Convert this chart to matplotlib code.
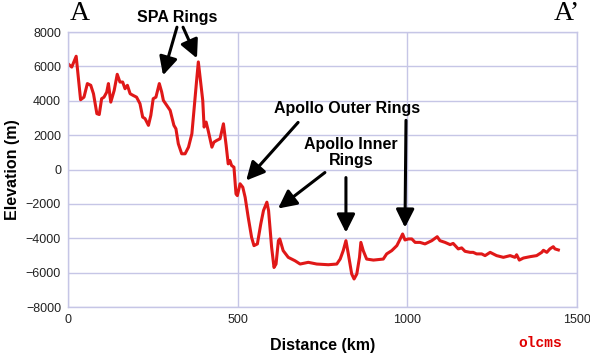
import matplotlib.pyplot as plt

# profile A - A' (distance km, elevation m)
distance = [0, 11, 24, 37, 47, 57, 67, 75, 85, 92, 99, 106, 114, 119, 126, 136,
            145, 153, 161, 168, 175, 183, 192, 202, 212, 220, 227, 237, 244, 251,
            259, 269, 276, 281, 291, 301, 312, 318, 325, 335, 345, 355, 365, 371,
            379, 384, 389, 397, 401, 407, 413, 424, 430, 438, 448, 458, 466, 472,
            477, 482, 489, 495, 499, 507, 515, 522, 531, 541, 548, 558, 568, 576,
            586, 591, 600, 607, 613, 620, 624, 634, 649, 669, 684, 708, 733, 767,
            792, 802, 811, 819, 826, 836, 843, 851, 859, 863, 870, 880, 900, 929,
            939, 954, 969, 979, 986, 993, 1003, 1013, 1023, 1037, 1052, 1072, 1088,
            1096, 1111, 1126, 1135, 1150, 1160, 1170, 1185, 1194, 1204, 1219, 1229,
            1244, 1263, 1283, 1303, 1317, 1322, 1330, 1342, 1362, 1381, 1396, 1401,
            1411, 1420, 1430, 1435, 1445]
elevation = [6150, 5960, 6590, 4060, 4210, 5000, 4900, 4410, 3250, 3200, 4120, 4210,
             4500, 5000, 3920, 4600, 5540, 5090, 5090, 4700, 4900, 4410, 4310, 4210,
             3830, 3050, 2960, 2570, 3150, 4120, 4210, 5000, 4510, 4020, 3730, 3440,
             2570, 2370, 1500, 915, 915, 1300, 2080, 3440, 5190, 6260, 5380, 4020,
             2470, 2760, 2270, 1300, 1590, 1690, 1790, 2660, 1400, 330, 525, 233, 134,
             -1420, -1520, -830, -1030, -1620, -2780, -3950, -4430, -4330, -3170,
             -2390, -1900, -2390, -4530, -5700, -5500, -4140, -4040, -4720, -5110,
             -5310, -5500, -5400, -5500, -5540, -5500, -5210, -4720, -4140, -4910,
             -6080, -6370, -6080, -5110, -4240, -4720, -5210, -5270, -5210, -4910,
             -4720, -4430, -4040, -3750, -4100, -4040, -4040, -4240, -4240, -4330,
             -4140, -3910, -4140, -4240, -4370, -4300, -4620, -4560, -4760, -4820,
             -4820, -4910, -4910, -5010, -4820, -5010, -5110, -5010, -5110, -4960,
             -5270, -5150, -5070, -5010, -4820, -4700, -4820, -4620, -4490, -4620,
             -4680]

x_ticks = [0, 500, 1000, 1500]
y_ticks = [-8000, -6000, -4000, -2000, 0, 2000, 4000, 6000, 8000]

# labels and arrows: (text, text position, [(tail, tip), ...])
notes = [
    ('SPA Rings', (321, 8860), [((321, 8280), (280, 5480)), ((339, 8280), (380, 6470))]),
    ('Apollo Outer Rings', (822, 3560), [((678, 2740), (525, -640)), ((996, 2860), (993, -3380))]),
    ('Apollo Inner\nRings', (834, 990), [((757, -175), (619, -2270)), ((819, -470), (819, -3670))]),
]

grid_col = '#c6c6e6'

fig = plt.figure(figsize=(5.9, 3.55), dpi=100)
ax = fig.add_axes([0.1153, 0.1352, 0.8627, 0.7746])

ax.plot(distance, elevation, color='#e01818', linewidth=2.2, solid_joinstyle='round')

ax.set_xlim(0, 1500)
ax.set_ylim(-8000, 8000)
ax.set_xticks(x_ticks)
ax.set_yticks(y_ticks)
ax.grid(True, color=grid_col, linewidth=1.0)
ax.set_axisbelow(True)
for s in ax.spines.values():
    s.set_color(grid_col)
    s.set_linewidth(1.0)
ax.tick_params(length=0, labelsize=9, pad=5, labelcolor='#222222')
for lab in ax.get_xticklabels() + ax.get_yticklabels():
    lab.set_family('Liberation Sans')

ax.set_xlabel('Distance (km)', fontsize=11.5, fontweight='bold', family='Liberation Sans', labelpad=9)
ax.set_ylabel('Elevation (m)', fontsize=11.5, fontweight='bold', family='Liberation Sans', labelpad=4)

for text, pos, arrows in notes:
    ax.text(pos[0], pos[1], text, ha='center', va='center', fontsize=11.5, fontweight='bold',
            family='Liberation Sans', linespacing=1.1, clip_on=False)
    for tail, tip in arrows:
        ax.annotate('', xy=tip, xytext=tail, annotation_clip=False,
                    arrowprops=dict(arrowstyle='-|>,head_length=1.1,head_width=0.55',
                                    color='black', lw=2.2, shrinkA=0, shrinkB=0))

fig.text(80 / 590, 1 - 13 / 355, 'A', fontsize=20, family='Liberation Serif', ha='center', va='center')
fig.text(567 / 590, 1 - 13 / 355, 'A\u2019', fontsize=20, family='Liberation Serif', ha='center', va='center')
fig.text(540 / 590, 1 - 343 / 355, 'olcms', fontsize=10.5, family='Liberation Mono', fontweight='bold',
         color='#e00000', ha='center', va='center')

fig.savefig('out.png', dpi=100)
